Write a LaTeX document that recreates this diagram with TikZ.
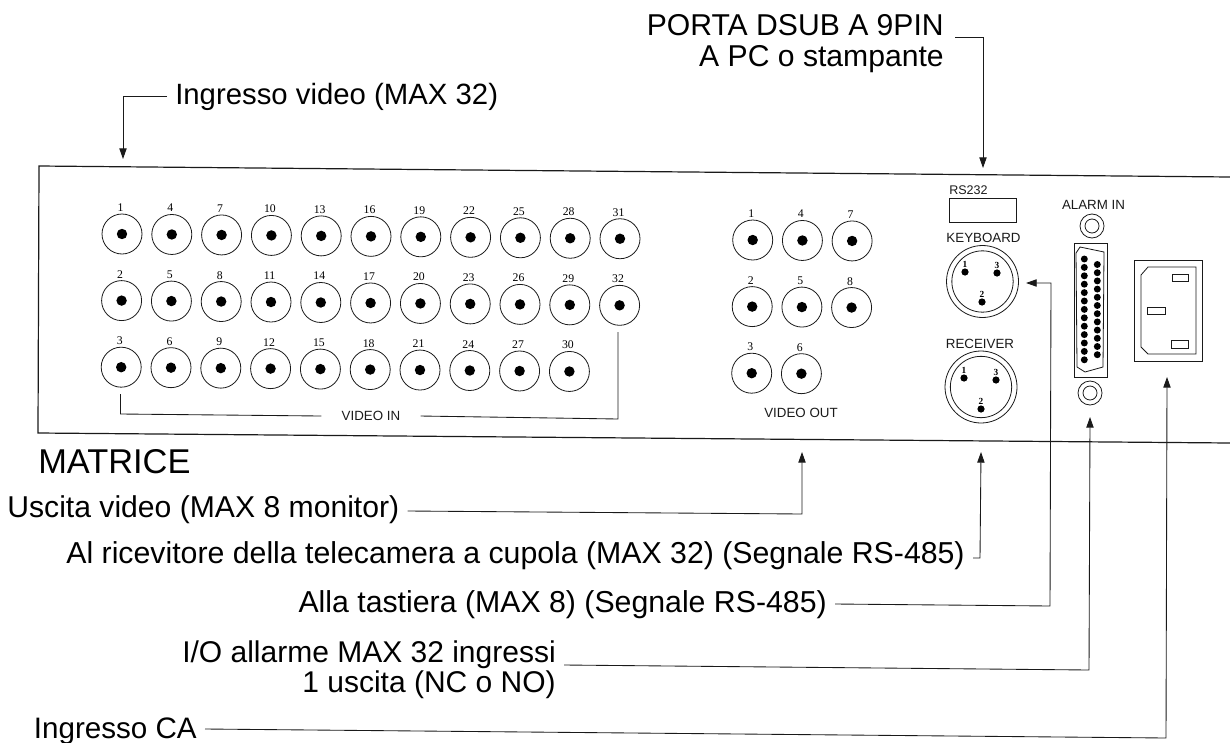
\documentclass[tikz,border=0pt]{standalone}
\usepackage{fontspec}
\setmainfont{Liberation Sans}
\newfontfamily\numfont{Liberation Serif}
\usetikzlibrary{arrows.meta,calc}
\definecolor{ink}{HTML}{1A1A1A}
\tikzset{
  wire/.style={draw=ink,line width=0.65pt},
  conn/.style={wire,-{Triangle[length=8pt,width=5.5pt]}},
  panel/.style={draw=ink,line width=0.9pt},
  bigt/.style={font=\fontsize{22.6}{24}\selectfont,text=black,inner ysep=0pt,inner xsep=6pt},
  titlet/.style={font=\fontsize{25.8}{27}\selectfont,text=black,inner sep=0pt},
  smallt/.style={font=\fontsize{10}{12}\selectfont,text=ink,inner sep=0pt},
  numt/.style={font=\numfont\fontsize{8.8}{9}\selectfont,text=black,inner sep=0pt},
  pinnum/.style={font=\numfont\bfseries\fontsize{7}{8}\selectfont,text=black,inner sep=0pt},
  bnc/.style={circle,draw=ink,line width=0.6pt,minimum size=30pt,inner sep=0pt},
  hole/.style={fill=black,draw=none},
  part/.style={draw=ink,line width=0.6pt},
}
\newcommand{\bncat}[5]{% name,x,y,label
  \node[bnc] (#1) at (#2,#3) {};
  \fill[hole] (#1.center) circle (3.9pt);
  \node[numt,anchor=base] (#1n) at ($(#2,#3)+(-1.5,-22.5)$) {#4};
}
\begin{document}
\begin{tikzpicture}[x=0.75pt,y=-0.75pt]
\useasboundingbox (0,0) rectangle (1230,742);
% panel
\coordinate (ptr) at (1230,177);
\coordinate (ptl) at (39,166);
\coordinate (pbl) at (38,433);
\coordinate (pbr) at (1230,443);
\draw[panel] (ptr) -- (ptl) -- (pbl) -- (pbr);
% video in
\foreach \c in {0,...,10}{
  \foreach \r in {0,1,2}{
    \pgfmathtruncatemacro{\n}{3*\c+\r+1}
    \ifnum\n<33
      \pgfmathsetmacro{\xx}{122+49.8*\c-0.4*\r}
      \pgfmathsetmacro{\yy}{234+66.6*\r+0.0095*(\xx-122)}
      \bncat{vi\n}{\xx}{\yy}{\n}{}
    \fi
  }
}
% video out
\foreach \c in {0,1,2}{
  \foreach \r in {0,1,2}{
    \pgfmathtruncatemacro{\n}{3*\c+\r+1}
    \ifnum\n<9
      \pgfmathsetmacro{\xx}{752.7+49.7*\c-0.5*\r}
      \pgfmathsetmacro{\yy}{240+66.6*\r+0.0095*(\xx-752)}
      \bncat{vo\n}{\xx}{\yy}{\n}{}
    \fi
  }
}
% VIDEO IN bracket
\node[smallt,inner xsep=15pt,anchor=base] (vidin) at (371,420.6) {VIDEO IN};
\coordinate (vial) at (120.5,394);
\coordinate (vibl) at (120.5,414);
\coordinate (vibr) at (618,419);
\coordinate (viar) at (618,332);
\draw[wire] (vial) -- (vibl) -- (vidin.west);
\draw[wire] (vidin.east) -- (vibr) -- (viar);
\node[smallt,anchor=base] (vidout) at (801,417) {VIDEO OUT};
% RS232
\node[smallt,anchor=base west,font=\fontsize{9.4}{11}\selectfont] (rslbl) at (949,194) {RS232};
\node[part,minimum width=50.25pt,minimum height=18pt,inner sep=0pt] (rs) at (982.5,210) {};
% keyboard
\node[smallt,anchor=base] (kblbl) at (983.5,242) {KEYBOARD};
\node[circle,part,minimum size=54pt,inner sep=0pt] (kb) at (982.5,281.5) {};
\node[circle,part,minimum size=46pt,inner sep=0pt] (kbi) at (982.5,281.5) {};
\foreach \n/\px/\py in {1/965/272,3/997/273,2/982/302}{
  \fill[hole] (\px,\py) circle (2.7pt);
  \node[pinnum,anchor=base] (kbp\n) at (\px,\py-5) {\n};
}
% receiver
\node[smallt,anchor=base] (rclbl) at (980,348) {RECEIVER};
\node[circle,part,minimum size=54pt,inner sep=0pt] (rc) at (981,387) {};
\node[circle,part,minimum size=46pt,inner sep=0pt] (rci) at (981,387) {};
\foreach \n/\px/\py in {1/964/378,3/996/380,2/981/409}{
  \fill[hole] (\px,\py) circle (2.7pt);
  \node[pinnum,anchor=base] (rcp\n) at (\px,\py-5) {\n};
}
% alarm
\node[smallt,anchor=base] (allbl) at (1093.5,209) {ALARM IN};
\node[circle,part,minimum size=18pt,inner sep=0pt] (alt) at (1092,226) {};
\node[circle,part,minimum size=10.5pt,inner sep=0pt] (alti) at (1092,226) {};
\node[circle,part,minimum size=18pt,inner sep=0pt] (alb) at (1090,393) {};
\node[circle,part,minimum size=10.5pt,inner sep=0pt] (albi) at (1090,393) {};
\draw[part] (1074,243) rectangle (1107,377);
\draw[part] (1080,247) -- (1104,252) -- (1103,367) -- (1085,372) -- (1077,367) -- (1076,253) -- cycle;
\foreach \i in {0,...,12}{ \fill[hole] (1084.3,259+8.4*\i) circle (2.6pt); }
\foreach \i in {0,...,11}{ \fill[hole] (1097.3,264.5+8.2*\i) circle (2.6pt); }
% power
\draw[part,line width=0.75pt] (1134,260) rectangle (1202,361);
\draw[part] (1148,267) -- (1196,267) -- (1196,354) -- (1148,354) -- (1141,347) -- (1141,275) -- cycle;
\draw[part] (1172,274) rectangle (1188,281);
\draw[part] (1147,307) rectangle (1165,314);
\draw[part] (1171,340) rectangle (1188,348);
% labels
\node[bigt,anchor=base east] (lpa) at (952,36) {PORTA DSUB A 9PIN};
\node[bigt,anchor=base east] (lpb) at (952,67) {A PC o stampante};
\node[bigt,anchor=base west,font=\fontsize{22.0}{24}\selectfont] (liv) at (167,104) {Ingresso video (MAX 32)};
\node[titlet,anchor=base west] (ltit) at (38,473) {MATRICE};
\node[bigt,anchor=base east] (lvo) at (407.5,517) {Uscita video (MAX 8 monitor)};
\node[bigt,anchor=base east,font=\fontsize{22.7}{24}\selectfont] (lrc) at (973,563) {Al ricevitore della telecamera a cupola (MAX 32) (Segnale RS-485)};
\node[bigt,anchor=base east,font=\fontsize{22.7}{24}\selectfont] (lkb) at (835,612) {Alla tastiera (MAX 8) (Segnale RS-485)};
\node[bigt,anchor=base east,font=\fontsize{22.5}{24}\selectfont] (lala) at (564,662) {I/O allarme MAX 32 ingressi};
\node[bigt,anchor=base east,font=\fontsize{22.5}{24}\selectfont] (lalb) at (564,692) {1 uscita (NC o NO)};
\node[bigt,anchor=base east,font=\fontsize{22.2}{24}\selectfont] (lca) at (205,738) {Ingresso CA};
% connectors
\coordinate (cpa) at (983,37);
\coordinate (tpa) at (983,168);
\draw[conn] (lpa.base east) ++(3,1) -- (cpa) -- (tpa);
\coordinate (civ) at (123,96);
\coordinate (tiv) at (123,159);
\draw[conn] (liv.west |- civ) -- (civ) -- (tiv);
\coordinate (cvo) at (802,514);
\coordinate (tvo) at (802,452);
\draw[conn] (lvo.east |- 0,511) -- (cvo) -- (tvo);
\coordinate (crc) at (980,558);
\coordinate (trc) at (981,452);
\draw[conn] (lrc.east |- crc) -- (crc) -- (trc);
\coordinate (ckb) at (1050,606);
\coordinate (tkb) at (1026,283);
\coordinate (ckb2) at (1051,283);
\draw[conn] (lkb.east |- 0,604) -- (ckb) -- (ckb2) -- (tkb);
\coordinate (cal) at (1089,670);
\coordinate (tal) at (1090,417);
\draw[conn] (lala.base east) ++(0,3) -- (cal) -- (tal);
\coordinate (cca) at (1166,738);
\coordinate (tca) at (1167,377);
\draw[conn] (lca.east |- 0,729) -- (cca) -- (tca);
\end{tikzpicture}
\end{document}
